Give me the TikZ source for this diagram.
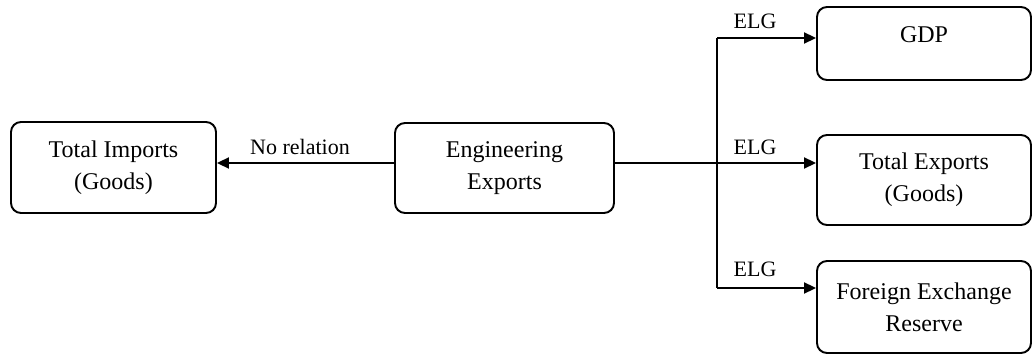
\documentclass[tikz,border=0pt]{standalone}
\usepackage{fontspec}
\setmainfont{Liberation Serif}
\usetikzlibrary{arrows.meta}
\begin{document}
\begin{tikzpicture}[x=1pt,y=-1pt,
  box/.style={draw, line width=1.9pt, rounded corners=10pt, align=center, inner sep=0pt,
    font=\fontsize{24}{32}\selectfont},
  lbl/.style={font=\fontsize{22}{26}\selectfont, inner sep=0pt},
  conn/.style={line width=1.9pt},
  arr/.style={conn, -{Triangle[length=12pt,width=11pt]}}]
\useasboundingbox (0,0) rectangle (1034,355);
\node[box, minimum width=205pt, minimum height=91pt] (imp) at (113.5,167.5) {Total Imports\\(Goods)};
\node[box, minimum width=219pt, minimum height=90pt] (eng) at (504.5,168) {Engineering\\Exports};
\node[box, minimum width=214pt, minimum height=73pt, text height=16pt, text depth=18pt] (gdp) at (924,43.5) {GDP};
\node[box, minimum width=214pt, minimum height=90pt] (tex) at (924,180) {Total Exports\\(Goods)};
\node[box, minimum width=214pt, minimum height=92pt] (fx) at (924,307) {Foreign Exchange\\Reserve};
% arrow levels
\coordinate (ymain) at (0,163);
\coordinate (ygdp) at (0,38);
\coordinate (yfx) at (0,288);
\coordinate (j) at (717,163);
\draw[arr] (eng.west |- ymain) -- (imp.east |- ymain);
\draw[conn] (eng.east |- ymain) -- (j);
\draw[arr] (j) -- (tex.west |- ymain);
\draw[conn] (j |- yfx) -- (j |- ygdp);
\draw[arr] (j |- ygdp) -- (gdp.west |- ygdp);
\draw[arr] (j |- yfx) -- (fx.west |- yfx);
\node[lbl] (lno) at (300,147) {No relation};
\node[lbl] (l1) at (755,21) {ELG};
\node[lbl] (l2) at (755,147) {ELG};
\node[lbl] (l3) at (755,269) {ELG};
\end{tikzpicture}
\end{document}
